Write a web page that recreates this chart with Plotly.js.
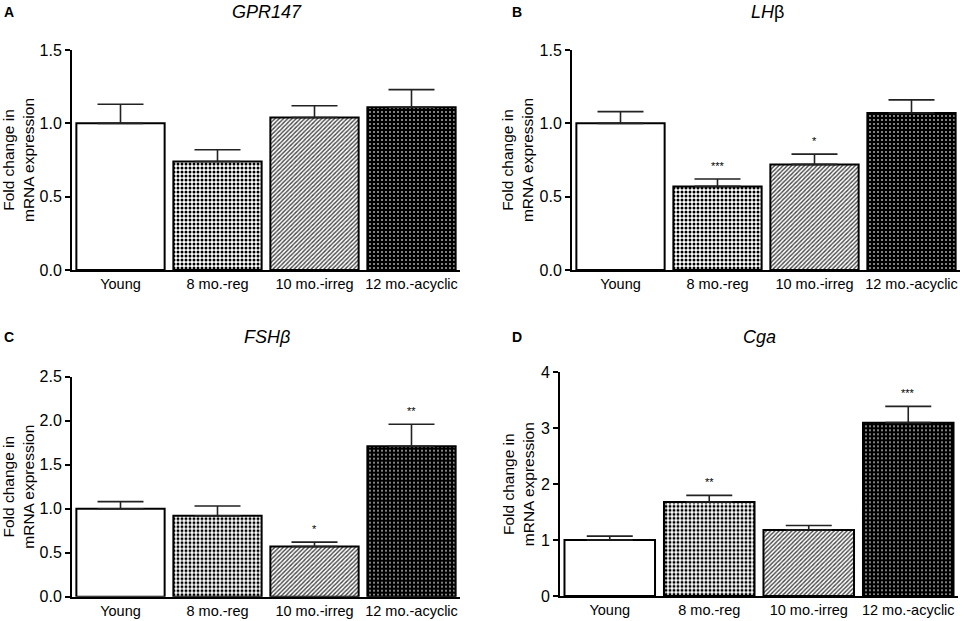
<!DOCTYPE html>
<html>
<head>
<meta charset="utf-8">
<script src="https://cdn.plot.ly/plotly-3.0.1.min.js"></script>
<style>
  body { margin: 0; background: #fff; }
  #plot { width: 965px; height: 621px; }
</style>
</head>
<body>
<div id="plot"></div>
<script>
// groups on the x axis
var groups = ["Young", "8 mo.-reg", "10 mo.-irreg", "12 mo.-acyclic"];

// fold change (mean) and upper SEM per panel
var gprMean = [1.00, 0.74, 1.04, 1.11];
var gprErr  = [0.13, 0.08, 0.08, 0.12];

var lhMean = [1.00, 0.57, 0.72, 1.07];
var lhErr  = [0.08, 0.05, 0.07, 0.09];

var fshMean = [1.00, 0.92, 0.57, 1.71];
var fshErr  = [0.08, 0.11, 0.05, 0.25];

var cgaMean = [1.00, 1.68, 1.18, 3.10];
var cgaErr  = [0.07, 0.12, 0.08, 0.29];

// significance marks
var gprSig = ["", "", "", ""];
var lhSig  = ["", "***", "*", ""];
var fshSig = ["", "", "*", "**"];
var cgaSig = ["", "**", "", "***"];

var font = "Liberation Sans, Arial, Helvetica, sans-serif";

// bar fills: open, dotted, hatched, dark dotted
var fills = [
  { color: "#fff", pattern: { shape: "" } },
  { color: "#fff", pattern: { shape: ".", fgcolor: "#000", bgcolor: "#fff", size: 4, solidity: 0.45, fillmode: "replace" } },
  { color: "#fff", pattern: { shape: "/", fgcolor: "#444", bgcolor: "#fff", size: 3, solidity: 0.45, fillmode: "replace" } },
  { color: "#000", pattern: { shape: ".", fgcolor: "#bdbdbd", bgcolor: "#000", size: 4, solidity: 0.16, fillmode: "replace" } }
];

var data = [];

function addBars(mean, err, n) {
  var sfx = n === 1 ? "" : String(n);
  for (var i = 0; i < groups.length; i++) {
    data.push({
      type: "bar",
      x: [groups[i]],
      y: [mean[i]],
      width: 0.91,
      xaxis: "x" + sfx,
      yaxis: "y" + sfx,
      marker: {
        color: fills[i].color,
        line: { color: "#000", width: 2 },
        pattern: fills[i].pattern
      },
      error_y: {
        type: "data",
        symmetric: false,
        array: [err[i]],
        arrayminus: [0],
        color: "#222",
        thickness: 1.6,
        width: 23
      },
      hoverinfo: "skip",
      showlegend: false
    });
  }
}

addBars(gprMean, gprErr, 1);
addBars(lhMean, lhErr, 2);
addBars(fshMean, fshErr, 3);
addBars(cgaMean, cgaErr, 4);

function xax(dom, anchor) {
  return {
    domain: dom,
    anchor: anchor,
    type: "category",
    categoryarray: groups,
    range: [-0.5, 3.5],
    showline: true, linecolor: "#000", linewidth: 2,
    ticks: "",
    tickfont: { family: font, size: 14.5, color: "#000" },
    showgrid: false, zeroline: false, fixedrange: true
  };
}

function yax(dom, max, step, fmt, anchor) {
  return {
    domain: dom,
    anchor: anchor,
    range: [0, max],
    dtick: step,
    tick0: 0,
    tickformat: fmt,
    showline: true, linecolor: "#000", linewidth: 2,
    ticks: "outside", ticklen: 5, tickwidth: 2, tickcolor: "#000",
    tickfont: { family: font, size: 16, color: "#000" },
    showgrid: false, zeroline: false, fixedrange: true,
    title: {
      text: "Fold change in<br>mRNA expression",
      font: { family: font, size: 15.5, color: "#000" },
      standoff: 2
    }
  };
}

var annotations = [];

function titles(txt, letter, cx, ty, lx) {
  annotations.push({
    text: txt, xref: "paper", yref: "paper", x: cx, y: ty,
    xanchor: "center", yanchor: "middle", showarrow: false,
    font: { family: font, size: 18, color: "#000" }
  });
  annotations.push({
    text: "<b>" + letter + "</b>", xref: "paper", yref: "paper", x: lx, y: ty,
    xanchor: "left", yanchor: "middle", showarrow: false,
    font: { family: font, size: 14, color: "#000" }
  });
}

function stars(sig, mean, err, n, ymax) {
  for (var i = 0; i < sig.length; i++) {
    if (!sig[i]) continue;
    annotations.push({
      text: sig[i],
      xref: "x" + n, yref: "y" + n,
      x: groups[i], y: mean[i] + err[i] + 0.06 * ymax,
      xanchor: "center", yanchor: "middle", showarrow: false,
      font: { family: font, size: 11, color: "#000" }
    });
  }
}

titles("<i>GPR147</i>", "A", 0.277, 1 - 12 / 621, 0.002);
titles("<i>LH</i>β", "B", 0.795, 1 - 12 / 621, 0.529);
titles("<i>FSHβ</i>", "C", 0.277, 1 - 337 / 621, 0.002);
titles("<i>Cga</i>", "D", 0.787, 1 - 337 / 621, 0.529);

stars(gprSig, gprMean, gprErr, "", 1.5);
stars(lhSig, lhMean, lhErr, 2, 1.5);
stars(fshSig, fshMean, fshErr, 3, 2.5);
stars(cgaSig, cgaMean, cgaErr, 4, 4);

var layout = {
  width: 965,
  height: 621,
  margin: { l: 0, r: 0, t: 0, b: 0 },
  paper_bgcolor: "#fff",
  plot_bgcolor: "#fff",
  barmode: "overlay",
  font: { family: font, color: "#000" },
  xaxis: xax([72 / 965, 460 / 965], "y"),
  yaxis: yax([1 - 270 / 621, 1 - 50 / 621], 1.5, 0.5, ".1f", "x"),
  xaxis2: xax([572 / 965, 960 / 965], "y2"),
  yaxis2: yax([1 - 270 / 621, 1 - 50 / 621], 1.5, 0.5, ".1f", "x2"),
  xaxis3: xax([72 / 965, 460 / 965], "y3"),
  yaxis3: yax([1 - 596.7 / 621, 1 - 376.7 / 621], 2.5, 0.5, ".1f", "x3"),
  xaxis4: xax([560 / 965, 958 / 965], "y4"),
  yaxis4: yax([1 - 596 / 621, 1 - 372.3 / 621], 4, 1, "d", "x4"),
  annotations: annotations
};

Plotly.newPlot("plot", data, layout, { displayModeBar: false, staticPlot: true });
</script>
</body>
</html>
